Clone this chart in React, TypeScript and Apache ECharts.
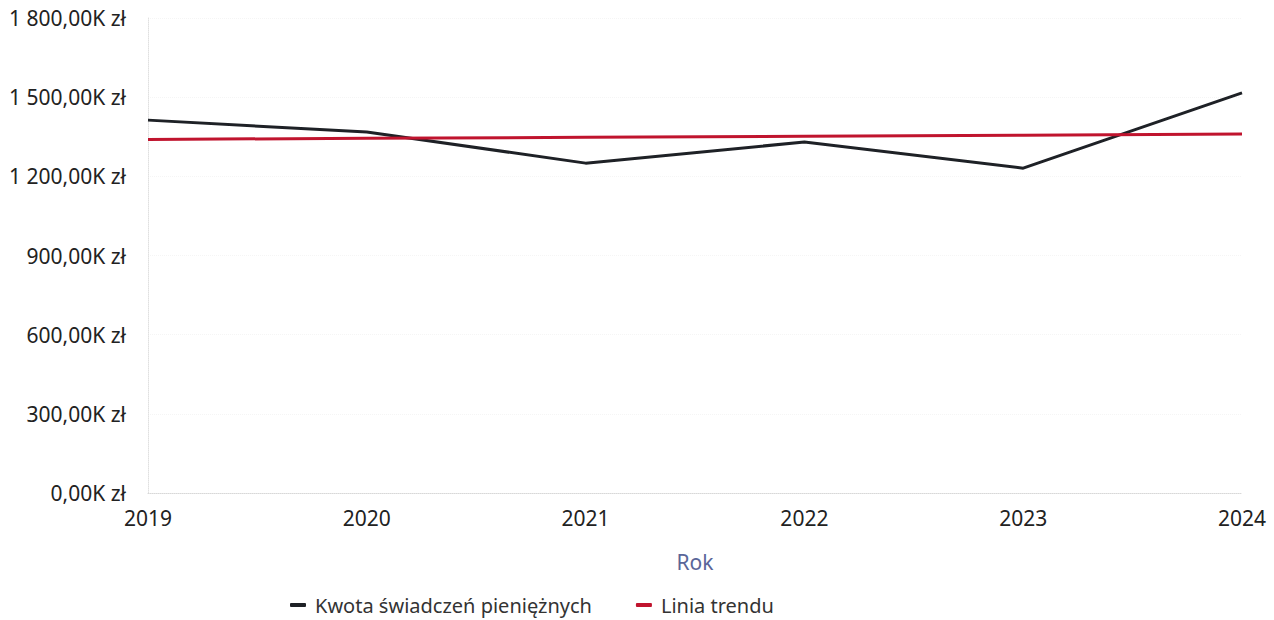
import React, { useEffect, useRef } from "react";
import * as echarts from "echarts";

const years = ["2019", "2020", "2021", "2022", "2023", "2024"];
const amounts = [1413000, 1368000, 1250000, 1330000, 1231000, 1516000];
const trend = [1340000, 1344000, 1348000, 1352000, 1356000, 1360000];
const seriesNames = ["Kwota świadczeń pieniężnych", "Linia trendu"];

function fmt(v: number): string {
  const k = v / 1000;
  const [intPart, dec] = k.toFixed(2).split(".");
  const withSpaces = intPart.replace(/\B(?=(\d{3})+(?!\d))/g, " ");
  return `${withSpaces},${dec}K zł`;
}

export default function App() {
  const ref = useRef<HTMLDivElement>(null);
  useEffect(() => {
    if (!ref.current) return;
    const chart = echarts.init(ref.current, undefined, { renderer: "svg" });
    const font = "'Noto Sans', 'Open Sans', sans-serif";
    chart.setOption({
      animation: false,
      textStyle: { fontFamily: font },
      grid: { left: 148, right: 32, top: 18, bottom: 127, containLabel: false },
      legend: {
        top: 594,
        left: 290,
        padding: 0,
        data: seriesNames,
        itemWidth: 16,
        itemHeight: 4,
        itemGap: 44,
        icon: "roundRect",
        textStyle: {
          fontSize: 20,
          lineHeight: 22,
          color: "#333",
          fontFamily: font,
          padding: [0, 0, 0, 4],
        },
      },
      xAxis: {
        type: "category",
        data: years,
        boundaryGap: false,
        name: "Rok",
        nameLocation: "middle",
        nameGap: 58,
        nameTextStyle: { fontSize: 21, color: "#5a6699", fontFamily: font },
        axisLine: { show: true, lineStyle: { color: "#d8d8d8", type: "dotted", width: 1 } },
        axisTick: { show: false },
        axisLabel: { fontSize: 21, color: "#222", margin: 14, fontFamily: font },
        splitLine: { show: false },
      },
      yAxis: {
        type: "value",
        min: 0,
        max: 1800000,
        interval: 300000,
        axisLine: { show: true, lineStyle: { color: "#e0e0e0", type: "dotted", width: 1 } },
        axisTick: { show: false },
        axisLabel: { fontSize: 21, color: "#222", margin: 22, formatter: fmt, fontFamily: font },
        splitLine: { show: true, lineStyle: { color: "#f5f5f5", type: "dotted", width: 1 } },
      },
      series: [
        {
          name: seriesNames[0],
          type: "line",
          data: amounts,
          symbol: "none",
          lineStyle: { color: "#1e2126", width: 3 },
          itemStyle: { color: "#1e2126" },
        },
        {
          name: seriesNames[1],
          type: "line",
          data: trend,
          symbol: "none",
          lineStyle: { color: "#c0142e", width: 3 },
          itemStyle: { color: "#c0142e" },
        },
      ],
    });
    return () => chart.dispose();
  }, []);
  return (
    <div
      ref={ref}
      style={{ position: "absolute", left: 0, top: 0, width: 1274, height: 620 }}
    />
  );
}
